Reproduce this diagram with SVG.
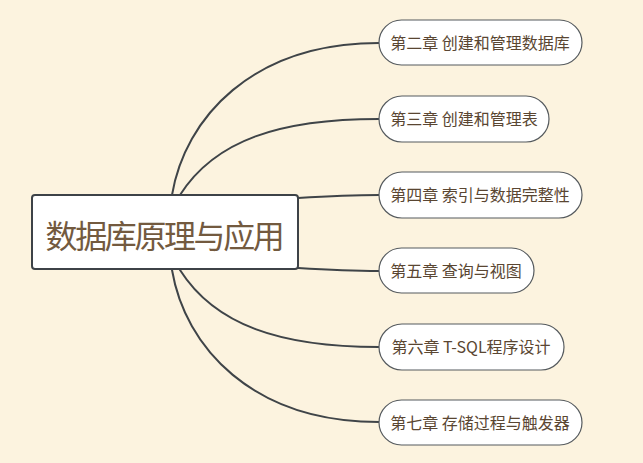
<svg xmlns="http://www.w3.org/2000/svg" width="643" height="463" viewBox="0 0 643 463">
<style>
.bg{fill:#fcf3df}
.conn{fill:none;stroke:#3f4448;stroke-width:2;stroke-linecap:round}
.root{fill:#ffffff;stroke:#3d4247;stroke-width:2}
.rootText{font-family:"Noto Sans CJK SC","Noto Sans",sans-serif;font-size:32px;fill:#735a3f;text-anchor:middle;letter-spacing:-2.4px}
.child{fill:#ffffff;stroke:#555a5e;stroke-width:1.2}
.childText{font-family:"Noto Sans CJK SC","Noto Sans",sans-serif;font-size:16px;fill:#5a4632;text-anchor:middle}
</style>
<rect class="bg" x="0" y="0" width="643" height="463"/>
<g id="connectors">
<path class="conn" d="M172,195 C185,118 252,43 379,43"/>
<path class="conn" d="M180,195 C215,140 280,119 379,119"/>
<path class="conn" d="M298,198 C330,196 350,195 379,195"/>
<path class="conn" d="M298,268 C330,270 350,271 379,271"/>
<path class="conn" d="M180,270 C215,325 280,347 379,347"/>
<path class="conn" d="M172,270 C185,347 252,422 379,422"/>
</g>
<g id="root">
<rect class="root" x="32" y="195" width="266" height="74" rx="3"/>
<text class="rootText" x="164" y="248">数据库原理与应用</text>
</g>
<g id="node1">
<rect class="child" x="379" y="20" width="203" height="45" rx="22.5"/>
<text class="childText" x="480" y="49">第二章 创建和管理数据库</text>
</g>
<g id="node2">
<rect class="child" x="379" y="96" width="170" height="46" rx="23"/>
<text class="childText" x="464" y="125">第三章 创建和管理表</text>
</g>
<g id="node3">
<rect class="child" x="379" y="172" width="203" height="46" rx="23"/>
<text class="childText" x="480" y="201">第四章 索引与数据完整性</text>
</g>
<g id="node4">
<rect class="child" x="379" y="248" width="155" height="45" rx="22.5"/>
<text class="childText" x="456" y="277">第五章 查询与视图</text>
</g>
<g id="node5">
<rect class="child" x="379" y="324" width="185" height="46" rx="23"/>
<text class="childText" x="471" y="353">第六章 T-SQL程序设计</text>
</g>
<g id="node6">
<rect class="child" x="379" y="400" width="203" height="45" rx="22.5"/>
<text class="childText" x="480" y="429">第七章 存储过程与触发器</text>
</g>
</svg>
